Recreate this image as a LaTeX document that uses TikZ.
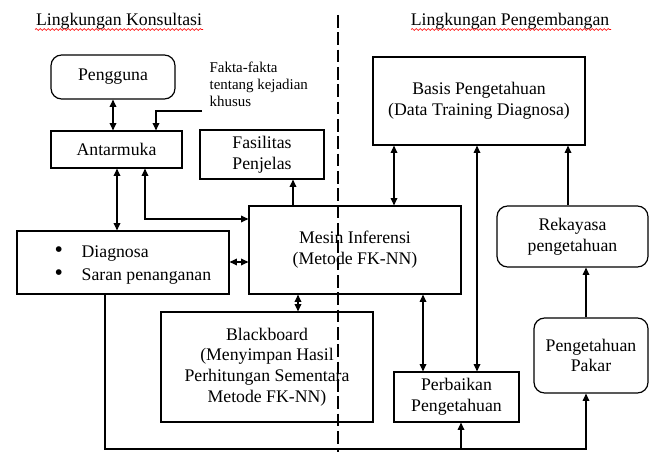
\documentclass[tikz,border=0pt]{standalone}
\usepackage{fontspec}
\setmainfont{Liberation Serif}
\usetikzlibrary{arrows.meta,decorations.pathmorphing}
\begin{document}
\begin{tikzpicture}[x=0.75pt,y=-0.75pt,
  line width=0.9pt,
  >={Triangle[length=5.5pt,width=5pt]},
  every node/.style={font=\fontsize{13.3}{15.6}\selectfont},
  sz/.style 2 args={minimum width=#1*0.75pt, minimum height=#2*0.75pt},
  box/.style={draw, line width=0.9pt, inner sep=0pt, align=center},
  rbox/.style={box, rounded corners=8pt},
  wavy/.style={red, line width=0.5pt, decorate, decoration={snake, amplitude=0.7pt, segment length=3pt}},
  small/.style={font=\fontsize{11.2}{12.8}\selectfont, align=left, inner sep=0pt}
]
\useasboundingbox (0,0) rectangle (656,452);

% titles
\node[anchor=base, inner sep=0pt] (t1) at (119,26) {Lingkungan Konsultasi};
\node[anchor=base, inner sep=0pt] (t2) at (510,26) {Lingkungan Pengembangan};
\draw[wavy] (35,29.5) -- (203,29.5);
\draw[wavy] (411,29.5) -- (611,29.5);

% divider
\draw[dash pattern=on 9.5pt off 3.5pt, line width=0.8pt] (338,15) -- (338,452);

% nodes
\node[rbox, sz={124}{44}] (peng) at (113,77) {Pengguna};
\node[box, sz={131}{37}] (antar) at (116.5,149.5) {Antarmuka};
\node[box, sz={124}{49}] (fas) at (262,154.5) {Fasilitas\\Penjelas};
\node[box, sz={212}{88}] (basis) at (479,101) {Basis Pengetahuan\\(Data Training Diagnosa)};
\node[box, sz={212}{88}] (mesin) at (355,250) {Mesin Inferensi\\(Metode FK-NN)};
\node[box, sz={212}{63}] (diag) at (123,262.5) {};
\node[anchor=west, inner sep=0pt] (diagtxt) at (54,264) {\renewcommand{\arraystretch}{1.12}\begin{tabular}{@{}l@{\hspace{14pt}}l@{}}\scalebox{1.35}{\textbullet} & Diagnosa\\ \scalebox{1.35}{\textbullet} & Saran penanganan\end{tabular}};
\node[box, sz={212}{110}] (black) at (267,367) {Blackboard\\(Menyimpan Hasil\\Perhitungan Sementara\\Metode FK-NN)};
\node[box, sz={125}{50}] (perb) at (456.5,397) {Perbaikan\\Pengetahuan};
\node[rbox, sz={151}{61}] (rek) at (572.5,236.5) {Rekayasa\\pengetahuan};
\node[rbox, sz={114}{75}] (pakar) at (591,355.5) {Pengetahuan\\Pakar};
\node[small, anchor=north west] (fakta) at (209,61) {Fakta-fakta\\tentang kejadian\\khusus};

% connectors
\coordinate (fk) at (202,111);
\coordinate (c1) at (105,449);
\coordinate (c2) at (461,449);
\coordinate (c3) at (586,449);

\draw[<->] (peng.south -| 113,0) -- (antar.north -| 113,0);
\draw[->] (fk) -- (156,111) -- (antar.north -| 156,0);
\draw[<->] (antar.south -| 117,0) -- (diag.north -| 117,0);
\draw[<->] (antar.south -| 145,0) |- (mesin.west |- 0,219);
\draw[->] (mesin.north -| 293,0) -- (fas.south -| 293,0);
\draw[<->] (diag.east |- 0,262) -- (mesin.west |- 0,262);
\draw[<->] (mesin.south -| 298,0) -- (black.north -| 298,0);
\draw[<->] (basis.south -| 394,0) -- (mesin.north -| 394,0);
\draw[<->] (mesin.south -| 423,0) -- (perb.north -| 423,0);
\draw[<->] (basis.south -| 477,0) -- (perb.north -| 477,0);
\draw[->] (rek.north -| 568,0) -- (basis.south -| 568,0);
\draw[->] (pakar.north -| 586,0) -- (rek.south -| 586,0);
\draw[->] (diag.south -| 105,0) -- (c1) -- (c3) -- (pakar.south -| 586,0);
\draw[->] (c2) -- (perb.south -| 461,0);
\end{tikzpicture}
\end{document}
